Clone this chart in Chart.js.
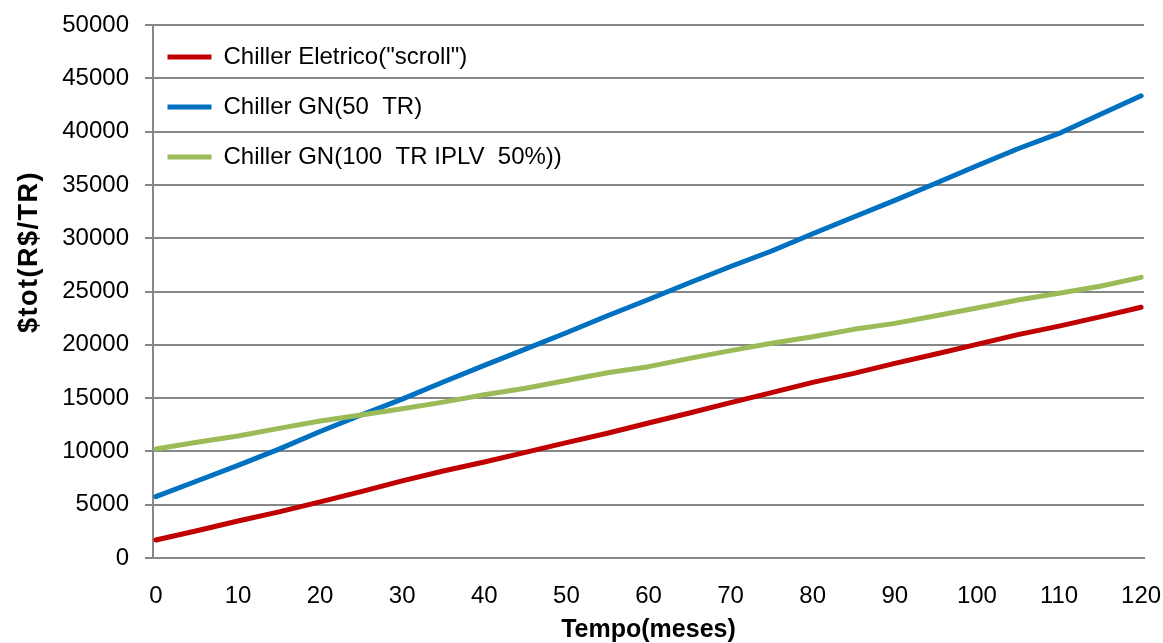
<!DOCTYPE html>
<html>
<head>
<meta charset="utf-8">
<title>Custo total x tempo</title>
<script src="https://cdn.jsdelivr.net/npm/chart.js@4.4.1/dist/chart.umd.min.js"></script>
<style>
  html, body { margin: 0; padding: 0; background: #fff; }
  #wrap { width: 1163px; height: 643px; }
</style>
</head>
<body>
<div id="wrap"><canvas id="custo-chart" width="1163" height="643"></canvas></div>
<script>
// custo total acumulado por TR, a cada 5 meses
const meses = [0, 5, 10, 15, 20, 25, 30, 35, 40, 45, 50, 55, 60, 65, 70, 75, 80, 85, 90, 95, 100, 105, 110, 115, 120]
const eletrico = [1690, 2560, 3470, 4330, 5260, 6230, 7230, 8160, 9000, 9910, 10820, 11700, 12660,
  13600, 14570, 15510, 16480, 17320, 18260, 19140, 20040, 20950, 21750, 22620, 23520]
const gn50 = [5750, 7220, 8690, 10210, 11870, 13410, 14900, 16510, 18070, 19600, 21130, 22730, 24250,
  25820, 27350, 28800, 30420, 31990, 33550, 35150, 36800, 38390, 39830, 41600, 43360]
const gn100 = [10220, 10850, 11440, 12160, 12850, 13410, 14000, 14620, 15320, 15920, 16650, 17380, 17950,
  18730, 19450, 20140, 20760, 21450, 22010, 22730, 23450, 24200, 24830, 25490, 26330]

const eixoY = { min: 0, max: 50000, passo: 5000 }
const eixoX = { passo: 10 }

const cinza = '#878787'
const fonte = '"Liberation Sans", Arial, sans-serif'

Chart.defaults.font.family = fonte
Chart.defaults.color = '#000'

function serie(valores) {
  return meses.map((m, i) => ({ x: m, y: valores[i] }))
}

// legenda dentro da area do grafico, encostada no canto superior esquerdo
const legendaNoGrafico = {
  id: 'legendaNoGrafico',
  afterLayout(chart) {
    const area = chart.chartArea
    chart.legend.left = area.left - 11.5
    chart.legend.top = area.top - 6
  }
}

// titulo do eixo Y, girado
const tituloEixoY = {
  id: 'tituloEixoY',
  afterDraw(chart) {
    const ctx = chart.ctx
    ctx.save()
    ctx.translate(30, 252)
    ctx.rotate(-Math.PI / 2)
    ctx.font = 'bold 27px ' + fonte
    ctx.letterSpacing = '1.5px'
    ctx.fillStyle = '#000'
    ctx.textAlign = 'center'
    ctx.textBaseline = 'middle'
    ctx.fillText('$tot(R$/TR)', 0, 0)
    ctx.restore()
  }
}

const linha = {
  borderWidth: 5,
  pointRadius: 0,
  pointHoverRadius: 0,
  borderCapStyle: 'round',
  borderJoinStyle: 'round',
  tension: 0,
}

const ctx = document.getElementById('custo-chart')

new Chart(ctx, {
  type: 'line',
  data: {
    datasets: [
      { ...linha, label: 'Chiller Eletrico("scroll")', data: serie(eletrico),
        borderColor: '#C00000', backgroundColor: '#C00000', order: 3 },
      { ...linha, label: 'Chiller GN(50  TR)', data: serie(gn50),
        borderColor: '#0070C0', backgroundColor: '#0070C0', order: 2 },
      { ...linha, label: 'Chiller GN(100  TR IPLV  50%))', data: serie(gn100),
        borderColor: '#9BBB59', backgroundColor: '#9BBB59', order: 1 },
    ],
  },
  options: {
    responsive: false,
    animation: false,
    devicePixelRatio: 1,
    layout: { padding: { left: 0, top: 25, right: 19, bottom: 0 } },
    plugins: {
      tooltip: { enabled: false },
      legend: {
        position: 'chartArea',
        align: 'start',
        labels: {
          font: { size: 24 },
          color: '#000',
          usePointStyle: true,
          pointStyle: 'line',
          pointStyleWidth: 44,
          padding: 26,
          sort: (a, b) => a.datasetIndex - b.datasetIndex,
        },
      },
    },
    scales: {
      x: {
        type: 'linear',
        min: -0.35,
        max: 120.35,
        afterFit: (s) => {
          s.height = 85
          s.paddingLeft = 0
          s.paddingRight = 0
        },
        grid: { display: true, drawOnChartArea: false, drawTicks: false },
        border: { color: cinza, width: 2 },
        ticks: {
          stepSize: eixoX.passo,
          includeBounds: false,
          autoSkip: false,
          maxRotation: 0,
          padding: 24,
          font: { size: 24 },
          color: '#000',
        },
        title: {
          display: true,
          text: 'Tempo(meses)',
          font: { size: 25, weight: 'bold', lineHeight: 1 },
          color: '#000',
          padding: { top: 0, bottom: 0 },
        },
      },
      y: {
        min: eixoY.min,
        max: eixoY.max,
        afterFit: (s) => {
          s.width = 153
          s.paddingTop = 0
          s.paddingBottom = 0
        },
        grid: { color: cinza, lineWidth: 2, tickLength: 8, tickColor: cinza, tickWidth: 2 },
        border: { color: cinza, width: 2 },
        ticks: {
          stepSize: eixoY.passo,
          padding: 16,
          font: { size: 24 },
          color: '#000',
          callback: (v) => String(v),
        },
      },
    },
  },
  plugins: [legendaNoGrafico, tituloEixoY],
})
</script>
</body>
</html>
